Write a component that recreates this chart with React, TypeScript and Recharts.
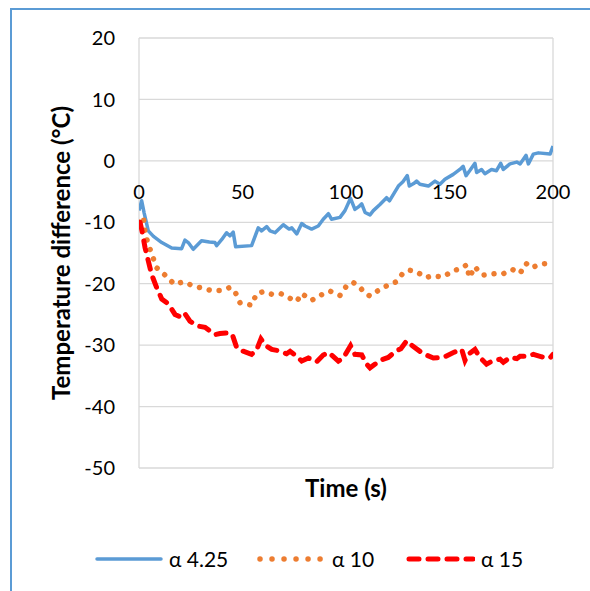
import React from "react";
import {
  LineChart,
  Line,
  XAxis,
  YAxis,
  CartesianGrid,
  Legend,
  ReferenceDot,
} from "recharts";

// ---- data ----
const blueTime = [0, 1.3, 2.5, 4.5, 7, 11, 15.8, 20.6, 22.2, 23.8, 26.2, 30.2, 34, 36.7, 37.5, 40, 42.3, 43.9, 45.5, 46.7, 54.4, 57.6, 59.2, 61.7, 63.3, 65.7, 69.7, 72.5, 73.8, 76.2, 78.6, 80.2, 83.4, 86.6, 89, 91.5, 93, 97.1, 99.5, 102.2, 104.3, 106, 107.6, 109.2, 111.6, 113.2, 116.4, 119.6, 121, 125.3, 127.5, 129.6, 130.6, 132.7, 134.1, 135.7, 139.8, 143, 145.4, 147.8, 151.8, 155, 156.6, 158, 160, 162.3, 163.1, 165.5, 167.1, 170.3, 172.7, 174.7, 176, 179.2, 182.5, 184.1, 187, 188.1, 190.5, 192.9, 198.6, 200];
const blueTemp = [-8.1, -6.5, -8.5, -11.4, -12.3, -13.3, -14.2, -14.3, -12.9, -13.3, -14.4, -13.0, -13.2, -13.3, -13.8, -12.8, -11.7, -12.2, -11.6, -14.0, -13.8, -10.9, -11.4, -10.7, -11.4, -11.7, -10.4, -11.1, -10.9, -11.9, -10.2, -10.6, -11.1, -10.6, -9.5, -8.6, -9.5, -9.2, -8.1, -6.1, -7.9, -7.5, -7.0, -8.4, -8.8, -8.1, -7.1, -6.0, -6.5, -4.1, -3.4, -2.4, -4.1, -3.7, -3.3, -3.8, -4.1, -3.3, -3.8, -3.0, -2.2, -1.4, -0.9, -2.4, -1.5, -0.4, -1.9, -1.4, -2.1, -1.4, -1.6, -0.4, -1.4, -0.5, -0.2, -0.5, 0.9, -0.5, 1.1, 1.3, 1.1, 2.4];

const orangeTime = [0.5, 2.1, 2.9, 4.2, 6.4, 8.5, 12.6, 17.1, 21.4, 25.1, 29, 34.8, 39.1, 44, 46.4, 48.8, 54.4, 56.8, 60, 64.1, 68.4, 72.5, 76.2, 78.6, 83.4, 88.2, 92.3, 97.1, 100.6, 103.5, 106.8, 109.2, 111.6, 115.6, 120.4, 124.2, 127.7, 130.6, 133.8, 138.6, 141.9, 146.7, 151.9, 156.3, 158.3, 159.6, 162.3, 164.3, 166.3, 169, 173.6, 175.8, 180.5, 184.1, 187, 189.5, 194.5, 199.3, 200];
const orangeTemp = [-10.0, -9.1, -11.6, -13.3, -15.4, -17.4, -18.6, -20.1, -19.7, -20.2, -20.6, -21.1, -21.1, -20.6, -21.3, -23.1, -23.5, -21.6, -21.3, -21.7, -21.6, -22.3, -22.9, -21.6, -22.7, -21.8, -21.2, -21.9, -20.2, -19.8, -20.6, -21.6, -22.0, -21.1, -20.2, -19.7, -18.2, -17.8, -18.0, -19.0, -18.7, -18.9, -17.9, -17.4, -16.9, -19.0, -17.2, -18.1, -18.6, -18.5, -18.3, -18.4, -17.7, -18.3, -16.7, -17.4, -16.8, -16.6, -16.2];

const redTime = [0.5, 1.5, 2.9, 4.5, 6.1, 8.5, 11, 14.2, 17.4, 20.6, 22.2, 24.6, 28.6, 31.9, 36.7, 39.1, 43.1, 45, 47.2, 49.6, 54.4, 56.8, 58.9, 61, 64.1, 67.3, 71.3, 73, 76.2, 78.6, 81.8, 85.8, 89, 91.5, 93, 96.3, 98.7, 102.2, 104.3, 107.6, 110, 111.6, 116.4, 120.4, 124.4, 126.5, 129.3, 132.4, 137.3, 142.2, 147, 151.9, 155.9, 157.5, 159, 162.3, 164.7, 167.9, 171.1, 174.4, 176, 179.2, 182.5, 184.1, 187.3, 190.5, 194.5, 198.5, 200];
const redTemp = [-10.0, -11.5, -14.1, -16.3, -18.5, -20.6, -22.5, -23.3, -25.0, -25.5, -24.9, -26.1, -26.9, -27.1, -28.3, -28.1, -28.0, -28.2, -30.4, -30.9, -31.5, -30.8, -29.0, -30.0, -30.7, -30.9, -31.4, -31.0, -31.8, -32.6, -32.1, -32.7, -31.6, -31.2, -31.6, -32.6, -32.1, -30.1, -31.5, -31.6, -33.1, -33.7, -32.5, -32.0, -30.9, -30.6, -29.3, -30.2, -31.4, -32.1, -32.0, -31.2, -30.7, -32.5, -31.5, -30.7, -32.0, -33.1, -32.5, -32.3, -32.8, -32.0, -32.2, -31.8, -31.8, -31.5, -31.9, -32.1, -31.5];

const seriesNames = ["α 4.25", "α 10", "α 15"];
const xTicks = [0, 50, 100, 150, 200];
const yTicks = [-50, -40, -30, -20, -10, 0, 10, 20];

const zip = (ts: number[], vs: number[]) => ts.map((t, i) => ({ t, v: vs[i] }));
const blueData = zip(blueTime, blueTemp);
const orangeData = zip(orangeTime, orangeTemp);
const redData = zip(redTime, redTemp);

const FONT = "Lato, 'Open Sans', sans-serif";
const BLUE = "#5b9bd5";
const ORANGE = "#ed7d31";
const RED = "#ff0000";

const LegendContent = () => {
  const items = [
    { name: seriesNames[0], color: BLUE, dash: undefined as string | undefined, w: 3.5, left: 87 },
    { name: seriesNames[1], color: ORANGE, dash: "0.01 12", w: 5.5, left: 250 },
    { name: seriesNames[2], color: RED, dash: "10 9", w: 5, left: 399 },
  ];
  return (
    <div style={{ position: "relative", height: 30, width: 590, fontFamily: FONT, fontSize: 21, color: "#000" }}>
      {items.map((it) => (
        <div key={it.name} style={{ position: "absolute", left: it.left, top: 0, height: 30, display: "flex", alignItems: "center" }}>
          <svg width={76} height={30}>
            <line x1={10} y1={15} x2={74} y2={15} stroke={it.color} strokeWidth={it.w} strokeDasharray={it.dash} strokeLinecap="round" />
          </svg>
          <span style={{ marginLeft: 6, lineHeight: "30px" }}>{it.name}</span>
        </div>
      ))}
    </div>
  );
};

export default function App() {
  return (
    <div style={{ position: "absolute", left: 0, top: 0, width: 590, height: 591, overflow: "hidden", background: "#fff" }}>
      <div style={{ position: "absolute", left: 10, top: 8, width: 620, height: 620, border: `2px solid ${BLUE}`, boxSizing: "border-box" }} />
      <div style={{ position: "absolute", left: 0, top: 0 }}>
        <LineChart width={590} height={591} margin={{ top: 38, right: 37, left: 30, bottom: 17 }}>
          <CartesianGrid stroke="#d9d9d9" strokeWidth={1.3} />
          <XAxis
            type="number"
            dataKey="t"
            domain={[0, 200]}
            ticks={xTicks}
            allowDataOverflow
            axisLine={false}
            tickLine={false}
            tick={false}
            height={76}
            label={{ value: "Time (s)", position: "insideTop", offset: 12, style: { fontFamily: FONT, fontSize: 24, fontWeight: 700, fill: "#000" } }}
          />
          <YAxis
            type="number"
            domain={[-50, 20]}
            ticks={yTicks}
            allowDataOverflow
            width={109}
            axisLine={false}
            tickLine={false}
            tickSize={0}
            tickMargin={24}
            tick={{ fontFamily: FONT, fontSize: 20, fill: "#000" }}
            label={{ value: "Temperature difference (°C)", angle: -90, position: "insideLeft", offset: 31, style: { textAnchor: "middle", fontFamily: FONT, fontSize: 24, fontWeight: 700, fill: "#000" } }}
          />
          {xTicks.map((t) => (
            <ReferenceDot
              key={t}
              x={t}
              y={0}
              r={1}
              fill="none"
              stroke="none"
              label={{ value: String(t), position: "bottom", offset: 23, style: { fontFamily: FONT, fontSize: 20, fill: "#000" } }}
            />
          ))}
          <Line data={blueData} dataKey="v" name={seriesNames[0]} stroke={BLUE} strokeWidth={3.5} dot={false} type="linear" isAnimationActive={false} strokeLinejoin="round" />
          <Line data={orangeData} dataKey="v" name={seriesNames[1]} stroke={ORANGE} strokeWidth={5.5} strokeDasharray="0.01 10" strokeLinecap="round" dot={false} type="linear" isAnimationActive={false} />
          <Line data={redData} dataKey="v" name={seriesNames[2]} stroke={RED} strokeWidth={5} strokeDasharray="10 9" strokeLinecap="round" dot={false} type="linear" isAnimationActive={false} />
          <Legend verticalAlign="bottom" height={30} wrapperStyle={{ left: 0, width: 590 }} content={<LegendContent />} />
        </LineChart>
      </div>
    </div>
  );
}
